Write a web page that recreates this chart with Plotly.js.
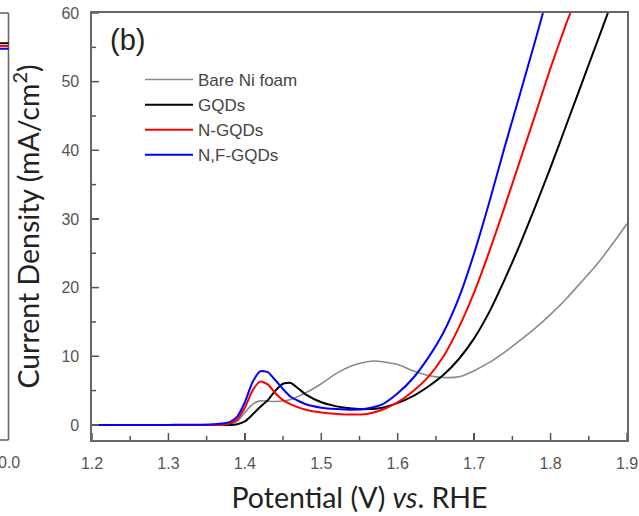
<!DOCTYPE html>
<html>
<head>
<meta charset="utf-8">
<script src="https://cdn.plot.ly/plotly-3.0.1.min.js"></script>
<style>html,body{margin:0;padding:0;background:#fff;}#chart{width:639px;height:516px;}</style>
</head>
<body>
<div id="chart"></div>
<script>
// Main panel (b): potential (V vs RHE) and current density (mA/cm2)
const seriesNames = ["Bare Ni foam", "GQDs", "N-GQDs", "N,F-GQDs"];

const bareX = [1.20, 1.30, 1.37, 1.38, 1.39, 1.40, 1.41, 1.42, 1.44, 1.46, 1.48, 1.50, 1.52, 1.54, 1.56, 1.57, 1.58, 1.60, 1.62, 1.64, 1.66, 1.68, 1.70, 1.72, 1.74, 1.76, 1.78, 1.80, 1.82, 1.84, 1.86, 1.88, 1.90];
const bareY = [0.0, 0.0, 0.0, 0.1, 0.5, 1.8, 3.0, 3.5, 3.4, 3.7, 4.7, 6.0, 7.5, 8.6, 9.2, 9.3, 9.2, 8.8, 7.9, 7.2, 6.9, 7.0, 7.9, 9.1, 10.6, 12.3, 14.1, 16.1, 18.3, 20.8, 23.3, 26.2, 29.3];

const gqdX = [1.20, 1.30, 1.38, 1.39, 1.40, 1.41, 1.42, 1.43, 1.44, 1.45, 1.46, 1.47, 1.48, 1.50, 1.52, 1.54, 1.56, 1.58, 1.60, 1.62, 1.64, 1.66, 1.68, 1.70, 1.72, 1.74, 1.76, 1.78, 1.80, 1.82, 1.84, 1.86, 1.875];
const gqdY = [0.0, 0.0, 0.0, 0.1, 0.5, 1.5, 2.6, 3.6, 5.0, 6.0, 6.1, 5.3, 4.4, 3.3, 2.7, 2.4, 2.3, 2.5, 3.2, 4.2, 5.6, 7.3, 9.6, 12.6, 16.5, 21.2, 26.3, 31.8, 37.5, 43.5, 49.5, 55.5, 60.0];

const ngqdX = [1.20, 1.30, 1.37, 1.38, 1.39, 1.40, 1.41, 1.42, 1.43, 1.44, 1.45, 1.46, 1.48, 1.50, 1.52, 1.54, 1.56, 1.58, 1.60, 1.62, 1.64, 1.66, 1.68, 1.70, 1.72, 1.74, 1.76, 1.78, 1.80, 1.82, 1.826];
const ngqdY = [0.0, 0.0, 0.0, 0.2, 0.8, 2.5, 5.0, 6.3, 5.9, 4.6, 3.6, 3.0, 2.2, 1.8, 1.6, 1.5, 1.6, 2.2, 3.3, 4.9, 7.0, 10.0, 14.2, 19.3, 25.3, 31.8, 38.5, 45.2, 52.0, 58.3, 60.0];

const nfgqdX = [1.20, 1.30, 1.36, 1.38, 1.39, 1.40, 1.41, 1.42, 1.43, 1.44, 1.45, 1.46, 1.48, 1.50, 1.52, 1.54, 1.56, 1.58, 1.60, 1.62, 1.64, 1.66, 1.68, 1.70, 1.72, 1.74, 1.76, 1.78, 1.79];
const nfgqdY = [0.0, 0.0, 0.1, 0.4, 1.2, 3.3, 6.2, 7.8, 7.7, 6.5, 5.2, 4.1, 3.0, 2.5, 2.3, 2.2, 2.4, 3.0, 4.6, 6.8, 9.8, 13.5, 18.5, 25.0, 32.5, 40.5, 48.2, 56.0, 60.0];

// Fragment of the neighbouring panel (a), cut off at the left edge
const leftLineLevels = [55.6, 55.2, 54.8];   // on the main y scale
const leftLineColors = ["#000000", "#ff0000", "#0000ff"];
const leftTickText = "0.0";

const xTickVals = [1.2, 1.3, 1.4, 1.5, 1.6, 1.7, 1.8, 1.9];
const xTickText = ["1.2", "1.3", "1.4", "1.5", "1.6", "1.7", "1.8", "1.9"];
const xMinorVals = [1.25, 1.35, 1.45, 1.55, 1.65, 1.75, 1.85];
const yTickVals = [0, 10, 20, 30, 40, 50, 60];
const yMinorVals = [5, 15, 25, 35, 45, 55];

const colors = ["#8a8a8a", "#000000", "#ff0000", "#0000ff"];
const widths = [1.6, 2, 2, 2];
const xs = [bareX, gqdX, ngqdX, nfgqdX];
const ys = [bareY, gqdY, ngqdY, nfgqdY];

const traces = xs.map((x, i) => ({
  type: "scatter", mode: "lines", name: seriesNames[i],
  x: x, y: ys[i],
  line: {color: colors[i], width: widths[i], shape: "spline", smoothing: 0.6}
}));

const W = 627; // paper width in px (l=0, r=12)
const fragR = 8.5 / W;
const tickFont = {family: "Arial, 'Liberation Sans', sans-serif", size: 16, color: "#555"};
const titleFont = {family: "Lato, 'Open Sans', sans-serif", size: 28.5, color: "#222"};
const frameLine = {color: "#666", width: 1.6};
const tickLine = {color: "#555", width: 1.5};

// inward tick marks on the bottom and left frame, placed through the axis scales
const xTickShapes = xTickVals.map(v => ({type: "line", xref: "x", yref: "paper", ysizemode: "pixel", yanchor: 0,
  x0: v, x1: v, y0: 0, y1: 7, line: tickLine}))
  .concat(xMinorVals.map(v => ({type: "line", xref: "x", yref: "paper", ysizemode: "pixel", yanchor: 0,
  x0: v, x1: v, y0: 0, y1: 4, line: tickLine})));
const yTickShapes = yTickVals.map(v => ({type: "line", xref: "paper", yref: "y", xsizemode: "pixel", xanchor: 92 / W,
  x0: 0, x1: 7, y0: v, y1: v, line: tickLine}))
  .concat(yMinorVals.map(v => ({type: "line", xref: "paper", yref: "y", xsizemode: "pixel", xanchor: 92 / W,
  x0: 0, x1: 4, y0: v, y1: v, line: tickLine})));

const shapes = [
  {type: "line", xref: "paper", yref: "paper", x0: 0, x1: fragR, y0: 1, y1: 1, line: frameLine},
  {type: "line", xref: "paper", yref: "paper", x0: 0, x1: fragR, y0: 0, y1: 0, line: frameLine},
  {type: "line", xref: "paper", yref: "paper", x0: fragR, x1: fragR, y0: 0, y1: 1, line: frameLine}
].concat(leftLineLevels.map((v, i) => ({
  type: "line", xref: "paper", yref: "y", x0: 0, x1: fragR, y0: v, y1: v,
  line: {color: leftLineColors[i], width: 2}
}))).concat(xTickShapes, yTickShapes);

const layout = {
  width: 639, height: 516,
  margin: {l: 0, r: 12, t: 13, b: 76},
  paper_bgcolor: "#fff", plot_bgcolor: "#fff",
  showlegend: true,
  xaxis: {
    domain: [92 / W, 1], range: [1.2, 1.9],
    tickvals: xTickVals, ticktext: xTickText,
    ticks: "inside", ticklen: 7, tickwidth: 1.5, tickcolor: "#555",
    showline: true, mirror: true, linecolor: "#666", linewidth: 1.6,
    showgrid: false, zeroline: false, tickfont: tickFont, ticklabelstandoff: 8,
    title: {text: "Potential (V) <i>vs</i>. RHE", font: titleFont, standoff: 17}
  },
  yaxis: {
    range: [-2.2, 60],
    tickvals: yTickVals,
    ticks: "inside", ticklen: 7, tickwidth: 1.5, tickcolor: "#555",
    showline: true, mirror: true, linecolor: "#666", linewidth: 1.6,
    showgrid: false, zeroline: false, tickfont: tickFont, ticklabelstandoff: 8,
    title: {text: "Current Density (mA/cm<sup>2</sup>)", font: titleFont, standoff: 13}
  },
  shapes: shapes,
  legend: {
    x: 140 / W, y: 1 - (62 - 13) / 427, xanchor: "left", yanchor: "top",
    bgcolor: "rgba(0,0,0,0)", borderwidth: 0,
    font: {family: "Arial, 'Liberation Sans', sans-serif", size: 17, color: "#444"},
    itemwidth: 48, tracegroupgap: 0
  },
  annotations: [
    {
      text: "(b)", xref: "paper", yref: "paper",
      x: 127 / W, y: 1 - (40 - 13) / 427, xanchor: "center", yanchor: "middle",
      showarrow: false, font: {family: "Arial, 'Liberation Sans', sans-serif", size: 29, color: "#222"}
    },
    {
      text: leftTickText, xref: "paper", yref: "paper",
      x: fragR, y: 0, xanchor: "center", yanchor: "top", yshift: -12,
      showarrow: false, font: tickFont
    }
  ]
};

Plotly.newPlot("chart", traces, layout, {displayModeBar: false, staticPlot: true});
</script>
</body>
</html>
